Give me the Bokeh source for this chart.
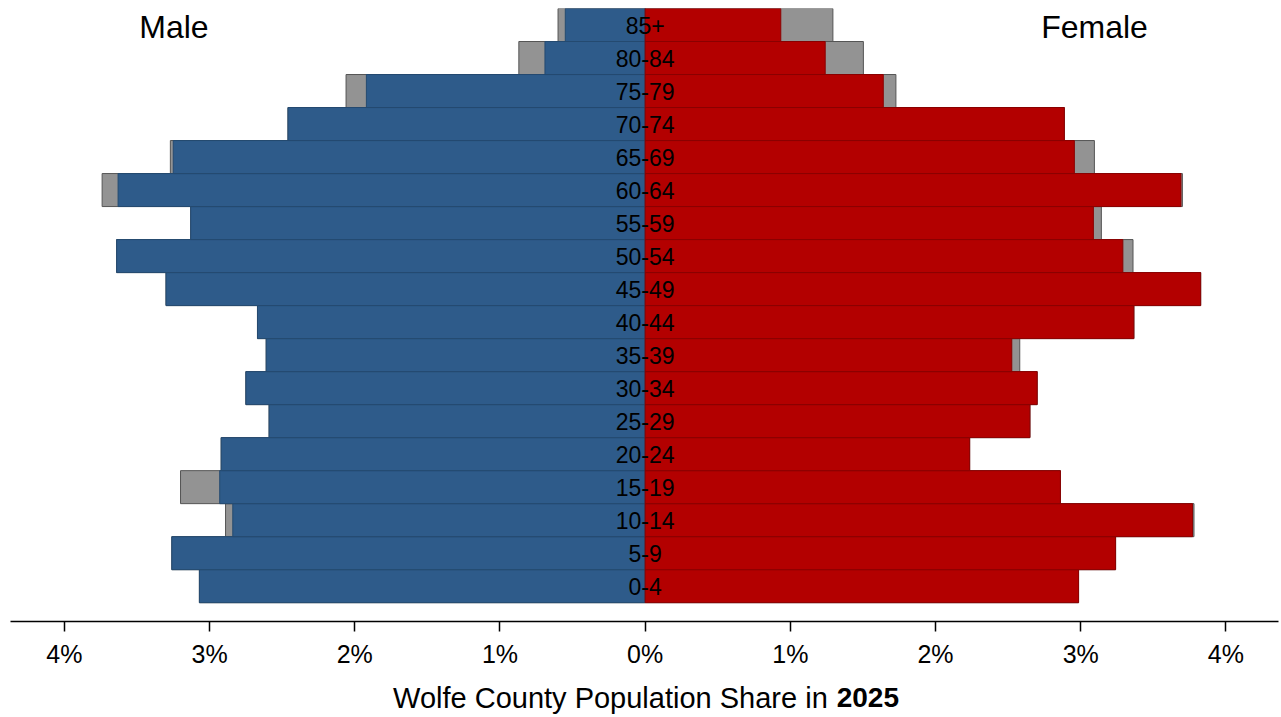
from bokeh.plotting import figure
from bokeh.layouts import column
from bokeh.models import Range1d, FixedTicker, CustomJSTickFormatter, Label, ColumnDataSource
from bokeh.core.properties import value
from bokeh.embed import file_html
from bokeh.resources import INLINE

ages = ["0-4", "5-9", "10-14", "15-19", "20-24", "25-29", "30-34", "35-39", "40-44",
        "45-49", "50-54", "55-59", "60-64", "65-69", "70-74", "75-79", "80-84", "85+"]
male = [3.07, 3.26, 2.84, 2.93, 2.92, 2.59, 2.75, 2.61, 2.67,
        3.30, 3.64, 3.13, 3.63, 3.25, 2.46, 1.92, 0.69, 0.55]
male_total = [3.07, 3.26, 2.89, 3.20, 2.92, 2.59, 2.75, 2.61, 2.67,
              3.30, 3.64, 3.13, 3.74, 3.27, 2.46, 2.06, 0.87, 0.60]
female = [2.985, 3.24, 3.77, 2.86, 2.235, 2.65, 2.70, 2.525, 3.366,
          3.826, 3.29, 3.087, 3.69, 2.956, 2.887, 1.64, 1.24, 0.934]
female_total = [2.985, 3.24, 3.78, 2.86, 2.235, 2.65, 2.70, 2.58, 3.366,
                3.826, 3.36, 3.142, 3.70, 3.094, 2.887, 1.727, 1.503, 1.293]
ticks = [-4, -3, -2, -1, 0, 1, 2, 3, 4]
title_normal = "Wolfe County Population Share in"
title_bold = "2025"

FONT = "Liberation Sans"
BLUE = "#2e5b8a"
RED = "#b30000"
GREY = "#939393"

idx = list(range(len(ages)))
src = ColumnDataSource(dict(
    y=idx, age=ages,
    m=[-v for v in male], mt=[-v for v in male_total],
    f=female, ft=female_total,
    zero=[0] * len(ages),
))

W = 1280
p = figure(width=W, height=672, output_backend="svg", toolbar_location=None,
           x_range=Range1d(-4.371, 4.362), y_range=Range1d(-1.07, 17.5),
           y_axis_location=None, min_border_left=10, min_border_right=2,
           min_border_top=8, min_border_bottom=51)
p.outline_line_color = None
p.xgrid.visible = False
p.ygrid.visible = False

p.hbar(y="y", left="mt", right="zero", height=1.0, source=src,
       fill_color=GREY, line_color="#555555", line_width=1)
p.hbar(y="y", left="zero", right="ft", height=1.0, source=src,
       fill_color=GREY, line_color="#555555", line_width=1)
p.hbar(y="y", left="m", right="zero", height=1.0, source=src,
       fill_color=BLUE, line_color="#244a70", line_width=1)
p.hbar(y="y", left="zero", right="f", height=1.0, source=src,
       fill_color=RED, line_color="#8a0000", line_width=1)

p.text(x="zero", y="y", text="age", source=src, text_font=value(FONT),
       text_font_size="23px", text_color="black", text_align="center",
       text_baseline="middle")

ax = p.xaxis[0]
ax.ticker = FixedTicker(ticks=ticks)
ax.formatter = CustomJSTickFormatter(code="return Math.abs(tick) + '%';")
ax.major_label_text_font = FONT
ax.major_label_text_font_size = "25px"
ax.major_label_text_color = "black"
ax.major_label_standoff = 8
ax.major_tick_out = 10
ax.major_tick_in = 0
ax.minor_tick_line_color = None
ax.axis_line_color = "black"
ax.axis_line_width = 1.5
ax.major_tick_line_color = "black"
ax.major_tick_line_width = 1.5

p.add_layout(Label(x=-3.245, y=16.93, text="Male", text_font=FONT,
                   text_font_size="32px", text_align="center",
                   text_baseline="middle", text_color="black"))
p.add_layout(Label(x=3.095, y=16.93, text="Female", text_font=FONT,
                   text_font_size="32px", text_align="center",
                   text_baseline="middle", text_color="black"))

# title strip below the axis
p2 = figure(width=W, height=44, output_backend="svg", toolbar_location=None,
            x_range=Range1d(0, W), y_range=Range1d(0, 44),
            x_axis_location=None, y_axis_location=None,
            min_border_left=0, min_border_right=0, min_border_top=0, min_border_bottom=0)
p2.outline_line_color = None
p2.xgrid.visible = False
p2.ygrid.visible = False
p2.text(x=[825], y=[19], text=[title_normal], text_font=value(FONT),
        text_font_size="29px", text_align="right", text_baseline="middle",
        text_color="black")
p2.text(x=[834], y=[19], text=[title_bold], text_font=value(FONT),
        text_font_size="28px", text_font_style="bold", text_align="left",
        text_baseline="middle", text_color="black")

layout = column(p, p2, spacing=0)
open("out.html", "w").write(file_html(layout, INLINE))
